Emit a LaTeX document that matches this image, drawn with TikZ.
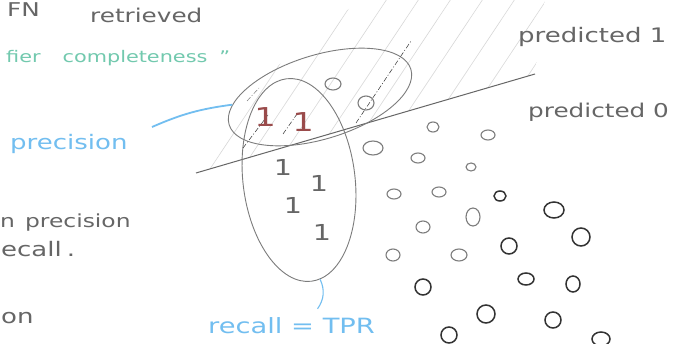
\documentclass[tikz,border=0pt]{standalone}
\usepackage{fontspec}
\newfontfamily\hand{DejaVu Sans}[FakeStretch=1.3]
\usetikzlibrary{shapes.geometric,positioning}
\definecolor{ink}{HTML}{666666}
\definecolor{pale}{HTML}{7C7C7C}
\definecolor{dark}{HTML}{333333}
\definecolor{sky}{HTML}{72BEF0}
\definecolor{mint}{HTML}{72C9AE}
\definecolor{rust}{HTML}{9A4B4B}
\definecolor{hatchgray}{HTML}{D8D8D8}

\begin{document}
\begin{tikzpicture}[x=1pt, y=-1pt,
  every node/.style={inner sep=0pt},
  hand/.style={font=\hand\fontsize{#1}{#1}\selectfont, anchor=base west},
  one/.style={font=\hand\fontsize{#1}{#1}\selectfont},
  blob/.style={draw=pale, line width=0.9pt, ellipse, inner sep=0pt},
  zero/.style={draw=pale, line width=1.1pt},
  zerodark/.style={draw=dark, line width=1.5pt},
  cutline/.style={draw=dark, line width=0.5pt, dash pattern=on 5pt off 2pt on 1pt off 2pt},
  link/.style={draw=sky, line width=1.8pt}]
  \clip (0,0) rectangle (676,344);
  \fill[white] (0,0) rectangle (676,344);

  % hatched half plane (predicted 1)
  \begin{scope}
    \clip (196,173) -- (535,74) -- (545,0) -- (360,0) -- (235,100) -- cycle;
    \foreach \i in {0,...,14}
      \draw[hatchgray, line width=0.6pt] (100+32*\i,190) -- ++(133,-200);
  \end{scope}

  % decision boundary
  \coordinate (lineA) at (196,173);
  \coordinate (lineB) at (535,74);
  \draw[ink, line width=1pt] (lineA) -- (lineB);

  % retrieved and relevant sets
  \node[blob, minimum width=190pt, minimum height=84pt, rotate=17] (retr) at (320,97) {};
  \node[blob, minimum width=112pt, minimum height=204pt, rotate=7] (act) at (299,180) {};

  \draw[cutline] (243,148) -- (268,115);
  \draw[cutline] (283,134) -- (297,114);
  \draw[cutline] (356,123) -- (411,41);
  \draw[cutline, draw=pale] (247,101) -- (259,88);

  % negatives
  \foreach \x/\y/\a/\b in {333/84/8/6, 366/103/8/7, 433/127/6/5, 488/135/7/5,
      373/148/10/7, 418/158/7/5, 471/167/5/4, 394/194/7/5, 439/192/7/5,
      473/217/7/9, 423/227/7/6, 393/255/7/6, 459/255/8/6}
    \draw[zero] (\x,\y) ellipse [x radius=\a, y radius=\b];
  \foreach \x/\y/\a/\b in {500/196/6/5, 554/210/10/8, 581/237/9/9, 509/246/8/8,
      526/279/8/6, 573/284/7/8, 423/287/8/8, 486/314/9/9, 553/320/8/8,
      449/335/8/8, 601/339/9/7}
    \draw[zerodark] (\x,\y) ellipse [x radius=\a, y radius=\b];

  % positives
  \node[one=26, text=rust] (tp1) at (265,117) {1};
  \node[one=26, text=rust] (tp2) at (303,122) {1};
  \foreach \x/\y [count=\k] in {283/167, 319/183, 293/205, 322/232}
    \node[one=22, text=ink] (pos\k) at (\x,\y) {1};

  % labels
  \node[hand=19, text=ink] (fn) at (7,17) {FN};
  \node[hand=19, text=ink] (retrieved) at (90,23) {retrieved};
  \node[hand=16, text=mint] (complete) at (6,63) {fier\hspace{22pt}completeness\hspace{12pt}”};
  \node[hand=20, text=sky] (prec) at (10,150) {precision};
  \node[hand=18, text=ink] (between) at (0,228) {n\hspace{10pt}precision};
  \node[hand=20, text=ink] (andrec) at (1,257) {ecall\hspace{5pt}.};
  \node[hand=20, text=ink] (tail) at (1,323) {on};
  \node[hand=21, text=sky] (rec) at (208,333) {recall = TPR};
  \node[hand=20, text=ink] (pred1) at (518,43) {predicted 1};
  \node[hand=19, text=ink] (pred0) at (528,118) {predicted 0};

  % pointers
  \coordinate (precTail) at (152,127);
  \draw[link] (precTail) to[bend left=8] (retr.168);
  \draw[link, line width=1.1pt] (act.-85) to[bend left=30] ([xshift=26pt, yshift=8pt]rec.north);
\end{tikzpicture}
\end{document}
